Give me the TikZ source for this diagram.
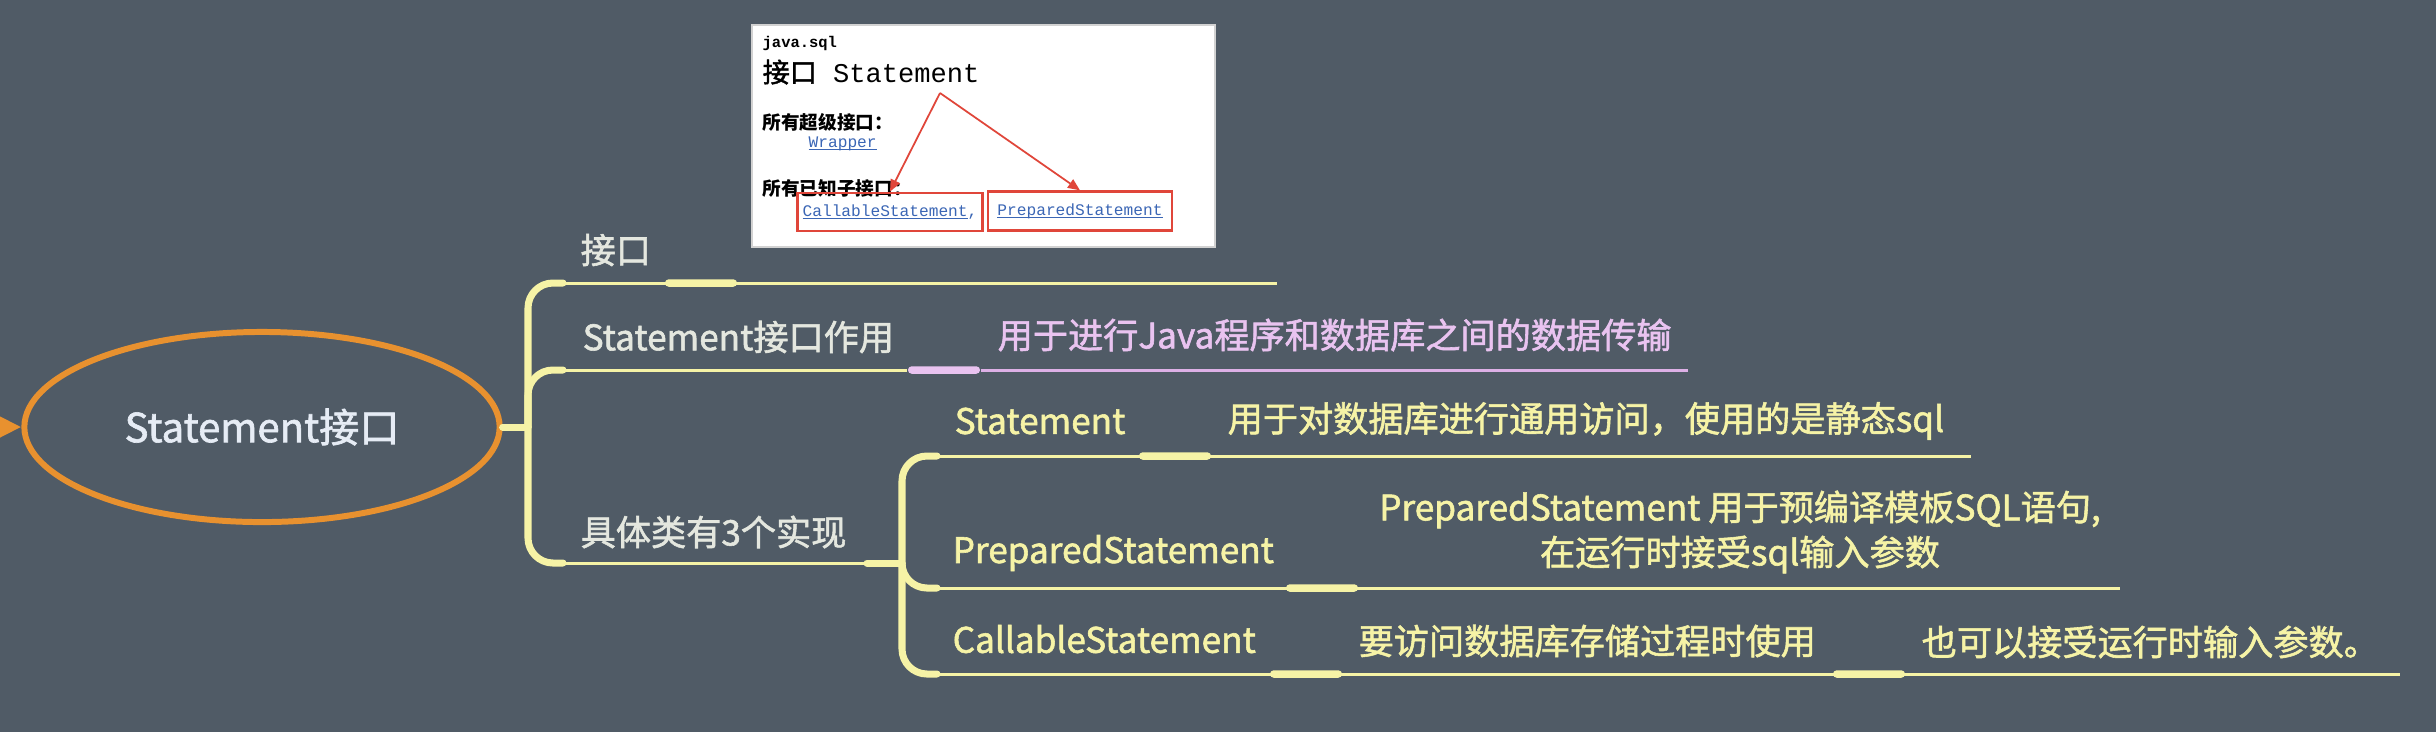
\documentclass[tikz,border=0pt]{standalone}
\usepackage{fontspec}
\setmainfont{Noto Sans CJK SC}
\newfontfamily\heavyfont[FakeBold=1.6]{Noto Sans CJK SC}
\newfontfamily\monofont{Liberation Mono}
\usepackage{xcolor}
\usetikzlibrary{arrows.meta,positioning,calc,shapes.geometric}
\definecolor{bg}{HTML}{505B66}
\definecolor{topic}{HTML}{E8912F}
\definecolor{branch}{HTML}{F6F3A6}
\definecolor{lilac}{HTML}{E9C3F0}
\definecolor{lilacline}{HTML}{DDB0E6}
\definecolor{paper}{HTML}{E6ECF5}
\definecolor{labeltext}{HTML}{E4E7DF}
\definecolor{shotred}{HTML}{E0463A}
\definecolor{shotlink}{HTML}{3B66B5}
\newcommand\ulink[1]{\setbox0\hbox{#1}\rlap{\rule[-0.7pt]{\wd0}{0.3pt}}\box0}

\begin{document}
\begin{tikzpicture}[x=0.01cm, y=-0.01cm, >=Latex,
  conn/.style={branch, line width=2pt, rounded corners=0.25cm, line cap=round},
  uline/.style={branch, line width=0.85pt},
  pill/.style={fill=branch, minimum width=0.72cm, minimum height=0.075cm, inner sep=0pt, rounded corners=0.037cm},
  lbl/.style={anchor=west, inner sep=0pt, text=labeltext, font=\heavyfont\fontsize{10}{12}\selectfont},
  sub/.style={anchor=west, inner sep=0pt, text=branch, font=\heavyfont\fontsize{10}{12.8}\selectfont},
  shot/.style={anchor=west, inner sep=0pt, text=black},
  link/.style={text=shotlink, font=\monofont\fontsize{4.6}{5}\selectfont},
  redbox/.style={draw=shotred, line width=0.8pt, inner xsep=0.05cm, minimum height=0.31cm}]
  \fill[bg] (0,0) rectangle (2436,732);
  \useasboundingbox (0,0) rectangle (2436,732);

  % central topic
  \node[ellipse, draw=topic, line width=1.7pt, minimum width=4.75cm, minimum height=1.9cm,
    text=paper, font=\heavyfont\fontsize{11.4}{13}\selectfont] (root) at (262,427) {Statement接口};
  \coordinate (in) at (0,427);
  \draw[topic, line width=1.7pt, -{Triangle[length=0.24cm,width=0.22cm]}] (in) -- (root.west);

  % first level
  \coordinate (j1) at (528,427);
  \draw[conn] (root.east) -- (j1);

  \coordinate (ifcA) at (563,283);
  \coordinate (ifcB) at (1277,283);
  \draw[conn] (j1) |- (ifcA);
  \draw[uline] (ifcA) -- (ifcB);
  \node[pill] (ifcPill) at (701,283) {};
  \node[lbl] (ifc) at (580,250) {接口};

  \coordinate (roleA) at (563,370);
  \coordinate (roleB) at (1688,370);
  \node[pill, fill=lilac] (rolePill) at (944,370) {};
  \draw[conn] (j1) |- (roleA);
  \draw[uline] (roleA) -- (rolePill.west);
  \draw[uline, lilacline] (rolePill.east) -- (roleB);
  \node[lbl] (role) at (582,337) {Statement接口作用};
  \node[lbl, text=lilac] (roleTxt) at (997,335) {用于进行Java程序和数据库之间的数据传输};

  \coordinate (implA) at (563,563);
  \coordinate (implB) at (867,563);
  \coordinate (j2) at (902,563);
  \draw[conn] (j1) |- (implA);
  \draw[uline] (implA) -- (implB);
  \draw[conn] (implB) -- (j2);
  \node[lbl] (impl) at (580,532) {具体类有3个实现};

  % second level
  \coordinate (stA) at (937,456);
  \coordinate (stB) at (1971,456);
  \draw[conn] (j2) |- (stA);
  \draw[uline] (stA) -- (stB);
  \node[pill] (stPill) at (1175,456) {};
  \node[sub] (st) at (954,421) {Statement};
  \node[sub] (stTxt) at (1227,421) {用于对数据库进行通用访问，使用的是静态sql};

  \coordinate (psA) at (937,588);
  \coordinate (psB) at (2120,588);
  \draw[conn] (j2) |- (psA);
  \draw[uline] (psA) -- (psB);
  \node[pill] (psPill) at (1322,588) {};
  \node[sub] (ps) at (952,553) {PreparedStatement};
  \node[sub, anchor=center, align=center] (psTxt) at (1740,532)
    {PreparedStatement 用于预编译模板SQL语句,\\在运行时接受sql输入参数};

  \coordinate (csA) at (937,674);
  \coordinate (csB) at (2400,674);
  \draw[conn] (j2) |- (csA);
  \draw[uline] (csA) -- (csB);
  \node[pill] (csPill) at (1306,674) {};
  \node[pill] (csPill2) at (1869,674) {};
  \node[sub] (cs) at (952,639) {CallableStatement};
  \node[sub] (csTxt) at (1358,641) {要访问数据库存储过程时使用};
  \node[sub] (csMore) at (1921,642) {也可以接受运行时输入参数。};

  % screenshot of the api page
  \node[draw=gray!35, fill=white, line width=0.6pt, minimum width=4.63cm, minimum height=2.22cm,
    inner sep=0pt] (shot) at (983.5,136) {};
  \node[shot, font=\monofont\bfseries\fontsize{4.4}{5}\selectfont] (pkg) at (762,43) {java.sql};
  \node[shot, font=\heavyfont\fontsize{7.7}{9}\selectfont] (title) at (762,72) {接口\hspace{0.6em}{\monofont Statement}};
  \node[shot, font=\bfseries\fontsize{5.3}{6}\selectfont] (superT) at (762,122) {所有超级接口：};
  \node[shot, link] (wrap) at (808,144) {\ulink{Wrapper}};
  \node[shot, font=\bfseries\fontsize{5.3}{6}\selectfont] (subT) at (762,188) {所有已知子接口：};
  \node[redbox, link] (call) at (890,212) {\ulink{CallableStatement},};
  \node[redbox, link, minimum height=0.37cm, minimum width=1.84cm] (prep) at (1080,211) {\ulink{PreparedStatement}};
  \coordinate (apex) at (940,93);
  \draw[shotred, line width=0.5pt, -{Triangle[length=0.12cm,width=0.1cm]}] (apex) -- (call.north);
  \draw[shotred, line width=0.5pt, -{Triangle[length=0.12cm,width=0.1cm]}] (apex) -- (prep.north);
\end{tikzpicture}
\end{document}
